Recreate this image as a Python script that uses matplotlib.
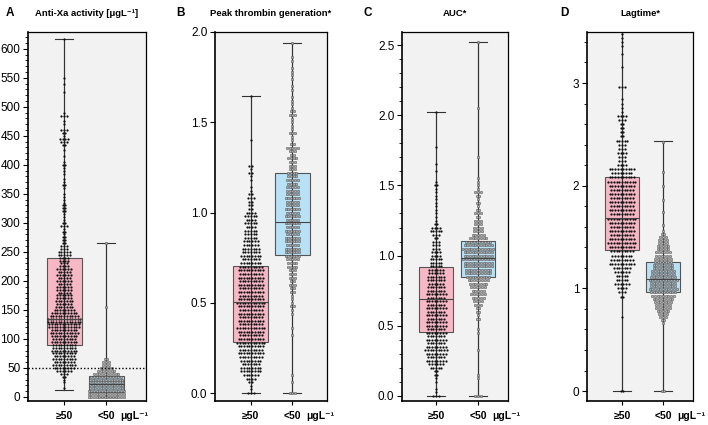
import matplotlib
matplotlib.use('Agg')
import matplotlib.pyplot as plt
import numpy as np
from matplotlib.ticker import MultipleLocator, FormatStrFormatter

plt.rcParams['font.family'] = ['Liberation Sans', 'DejaVu Sans']

# ---- data ----
groups = ['≥50', '<50']
unit = 'μgL⁻¹'
letters = ['A', 'B', 'C', 'D']
titles = ['Anti-Xa activity [μgL⁻¹]', 'Peak thrombin generation*', 'AUC*', 'Lagtime*']

# box summaries per group: (min, q1, median, q3, max)
anti_xa_box = [(12, 90, 135, 240, 617), (0, 8, 22, 36, 266)]
peak_box = [(0, 0.285, 0.505, 0.705, 1.647), (0, 0.767, 0.948, 1.217, 1.937)]
auc_box = [(0, 0.454, 0.688, 0.916, 2.02), (0, 0.845, 0.985, 1.107, 2.52)]
lag_box = [(0, 1.373, 1.688, 2.087, 3.62), (0, 0.967, 1.088, 1.259, 2.434)]

# dot rows: (value, number of dots in that row)
anti_xa_hi = [(15, 1), (25, 1), (30, 1), (35, 2), (40, 3), (45, 6), (50, 8), (55, 9), (60, 8),
              (65, 9), (70, 8), (75, 9), (80, 10), (85, 9), (90, 9), (95, 10), (100, 9), (105, 10),
              (110, 11), (115, 10), (120, 12), (125, 12), (130, 13), (135, 13), (140, 11), (145, 10),
              (150, 8), (155, 7), (160, 6), (165, 7), (170, 6), (175, 6), (180, 5), (185, 6), (190, 6),
              (195, 5), (200, 6), (205, 5), (210, 6), (215, 5), (220, 6), (225, 4), (230, 3), (235, 4),
              (240, 4), (245, 5), (250, 5), (255, 3), (260, 3), (265, 2), (270, 2), (275, 2), (280, 1),
              (285, 2), (290, 1), (295, 3), (300, 2), (305, 1), (310, 1), (315, 1), (320, 2), (325, 2),
              (330, 2), (335, 1), (340, 1), (345, 1), (350, 1), (360, 1), (365, 2), (370, 1), (375, 1),
              (385, 1), (390, 1), (395, 1), (400, 2), (405, 1), (415, 1), (425, 1), (435, 2), (440, 3),
              (445, 4), (450, 1), (455, 2), (460, 3), (470, 1), (475, 1), (485, 3), (490, 1), (525, 1),
              (540, 1), (550, 1), (617, 1)]
anti_xa_lo = [(0, 14), (5, 14), (10, 14), (15, 13), (20, 13), (25, 13), (30, 13), (35, 12), (40, 10),
              (45, 7), (50, 5), (55, 3), (60, 3), (65, 2), (155, 1), (266, 1)]

peak_hi = [(0.00, 3), (0.02, 1), (0.04, 1), (0.06, 2), (0.08, 4), (0.10, 6), (0.12, 8), (0.14, 8),
           (0.16, 7), (0.18, 8), (0.20, 9), (0.22, 10), (0.24, 9), (0.26, 10), (0.28, 11), (0.30, 10),
           (0.32, 9), (0.34, 10), (0.36, 11), (0.38, 9), (0.40, 10), (0.42, 9), (0.44, 10), (0.46, 9),
           (0.48, 10), (0.50, 11), (0.52, 10), (0.54, 9), (0.56, 10), (0.58, 9), (0.60, 10), (0.62, 9),
           (0.64, 10), (0.66, 9), (0.68, 10), (0.70, 9), (0.72, 8), (0.74, 7), (0.76, 8), (0.78, 7),
           (0.80, 7), (0.82, 6), (0.84, 6), (0.86, 5), (0.88, 5), (0.90, 5), (0.92, 4), (0.94, 5),
           (0.96, 4), (0.98, 5), (1.00, 4), (1.02, 2), (1.04, 2), (1.06, 2), (1.08, 3), (1.10, 2),
           (1.12, 1), (1.14, 1), (1.18, 1), (1.20, 1), (1.22, 2), (1.24, 1), (1.26, 2), (1.40, 1),
           (1.647, 1)]
peak_lo = [(0.00, 3), (0.06, 1), (0.10, 1), (0.32, 1), (0.36, 1), (0.44, 1), (0.46, 1), (0.48, 2),
           (0.50, 1), (0.52, 1), (0.54, 1), (0.56, 2), (0.58, 2), (0.60, 3), (0.62, 2), (0.64, 3),
           (0.66, 3), (0.68, 3), (0.70, 4), (0.72, 4), (0.74, 5), (0.76, 6), (0.78, 6), (0.80, 6),
           (0.82, 5), (0.84, 6), (0.86, 6), (0.88, 5), (0.90, 6), (0.92, 5), (0.94, 6), (0.96, 5),
           (0.98, 6), (1.00, 5), (1.02, 6), (1.04, 5), (1.06, 5), (1.08, 6), (1.10, 5), (1.12, 5),
           (1.14, 5), (1.16, 4), (1.18, 5), (1.20, 4), (1.22, 4), (1.24, 3), (1.26, 3), (1.28, 3),
           (1.30, 4), (1.32, 2), (1.34, 3), (1.36, 5), (1.38, 2), (1.40, 1), (1.42, 1), (1.44, 3),
           (1.46, 1), (1.48, 1), (1.50, 1), (1.52, 1), (1.54, 3), (1.56, 2), (1.58, 1), (1.60, 1),
           (1.62, 1), (1.64, 1), (1.68, 1), (1.70, 1), (1.74, 1), (1.76, 1), (1.78, 1), (1.80, 1),
           (1.84, 1), (1.86, 1), (1.937, 1)]

auc_hi = [(0.000, 3), (0.025, 1), (0.050, 1), (0.100, 1), (0.125, 1), (0.150, 2), (0.175, 2),
          (0.200, 5), (0.225, 6), (0.250, 8), (0.275, 7), (0.300, 8), (0.325, 9), (0.350, 8),
          (0.375, 7), (0.400, 8), (0.425, 7), (0.450, 8), (0.475, 7), (0.500, 8), (0.525, 8),
          (0.550, 7), (0.575, 8), (0.600, 7), (0.625, 8), (0.650, 7), (0.675, 8), (0.700, 7),
          (0.725, 8), (0.750, 7), (0.775, 7), (0.800, 6), (0.825, 7), (0.850, 7), (0.875, 6),
          (0.900, 6), (0.925, 5), (0.950, 5), (0.975, 5), (1.000, 4), (1.025, 4), (1.050, 3),
          (1.075, 3), (1.100, 3), (1.125, 2), (1.150, 3), (1.175, 5), (1.200, 4), (1.225, 2),
          (1.250, 1), (1.275, 1), (1.300, 1), (1.325, 1), (1.350, 1), (1.375, 1), (1.400, 1),
          (1.425, 1), (1.450, 1), (1.475, 1), (1.500, 2), (1.525, 1), (1.600, 1), (1.650, 1),
          (1.775, 1), (2.020, 1)]
auc_lo = [(0.000, 3), (0.125, 1), (0.150, 1), (0.325, 1), (0.450, 1), (0.475, 1), (0.550, 2),
          (0.575, 1), (0.600, 2), (0.625, 2), (0.650, 3), (0.675, 4), (0.700, 5), (0.725, 6),
          (0.750, 5), (0.775, 6), (0.800, 7), (0.825, 8), (0.850, 9), (0.875, 10), (0.900, 10),
          (0.925, 11), (0.950, 11), (0.975, 12), (1.000, 11), (1.025, 11), (1.050, 12), (1.075, 11),
          (1.100, 10), (1.125, 7), (1.150, 5), (1.175, 4), (1.200, 4), (1.225, 3), (1.250, 3),
          (1.275, 2), (1.300, 3), (1.325, 2), (1.350, 1), (1.375, 2), (1.400, 1), (1.425, 2),
          (1.450, 3), (1.475, 1), (1.500, 1), (1.525, 1), (1.550, 1), (1.700, 1), (2.050, 1),
          (2.520, 1)]

lag_hi = [(0.00, 2), (0.72, 1), (0.92, 2), (0.96, 3), (1.00, 4), (1.04, 6), (1.08, 5), (1.12, 5),
          (1.16, 6), (1.20, 7), (1.24, 10), (1.28, 9), (1.32, 8), (1.36, 9), (1.40, 10), (1.44, 11),
          (1.48, 10), (1.52, 9), (1.56, 10), (1.60, 9), (1.64, 10), (1.68, 11), (1.72, 9), (1.76, 10),
          (1.80, 9), (1.84, 10), (1.88, 9), (1.92, 10), (1.96, 9), (2.00, 10), (2.04, 11), (2.08, 10),
          (2.12, 8), (2.16, 10), (2.20, 4), (2.24, 3), (2.28, 3), (2.32, 4), (2.36, 3), (2.40, 3),
          (2.44, 5), (2.48, 2), (2.52, 2), (2.56, 2), (2.60, 2), (2.64, 3), (2.68, 4), (2.72, 1),
          (2.76, 1), (2.80, 1), (2.84, 1), (2.96, 3), (3.16, 1), (3.28, 1), (3.36, 1), (3.40, 1),
          (3.44, 1), (3.48, 1)]
lag_lo = [(0.00, 2), (0.66, 1), (0.69, 2), (0.72, 3), (0.75, 4), (0.78, 5), (0.81, 6), (0.84, 6),
          (0.87, 7), (0.90, 8), (0.93, 9), (0.96, 10), (0.99, 11), (1.02, 10), (1.05, 10), (1.08, 11),
          (1.11, 10), (1.14, 9), (1.17, 9), (1.20, 8), (1.23, 8), (1.26, 7), (1.29, 7), (1.32, 6),
          (1.35, 6), (1.38, 5), (1.41, 5), (1.44, 4), (1.47, 4), (1.50, 3), (1.53, 2), (1.56, 1),
          (1.62, 1), (1.74, 1), (1.86, 1), (2.00, 1), (2.13, 1), (2.43, 1)]

# ---- layout (pixel boxes of each axes in the 708x425 image) ----
W, H = 708, 425
panels = [
    dict(box=anti_xa_box, rows=(anti_xa_hi, anti_xa_lo), px=(28, 146, 32, 401),
         xlim=(-0.86, 1.95), ylim=(-7, 629), major=50, minor=10, fmt='%d', width=0.83, cutoff=50),
    dict(box=peak_box, rows=(peak_hi, peak_lo), px=(215, 327, 32, 401),
         xlim=(-0.86, 1.83), ylim=(-0.044, 2.0), major=0.5, minor=None, fmt='%.1f', width=0.84),
    dict(box=auc_box, rows=(auc_hi, auc_lo), px=(402, 508, 32, 401),
         xlim=(-0.81, 1.71), ylim=(-0.036, 2.593), major=0.5, minor=0.1, fmt='%.1f', width=0.81),
    dict(box=lag_box, rows=(lag_hi, lag_lo), px=(587, 693, 32, 401),
         xlim=(-0.85, 1.73), ylim=(-0.097, 3.497), major=1, minor=0.2, fmt='%d', width=0.83),
]
letter_x = [6, 176, 363, 560]

box_colours = ['#f6b8c5', '#b9e1f6']
bg = '#f2f2f2'

fig = plt.figure(figsize=(W / 100, H / 100), dpi=100)

for i, p in enumerate(panels):
    x0, x1, y0, y1 = p['px']
    ax = fig.add_axes([x0 / W, 1 - y1 / H, (x1 - x0) / W, (y1 - y0) / H])
    ax.set_facecolor(bg)
    ax.set_xlim(*p['xlim'])
    ax.set_ylim(*p['ylim'])
    ppu = (x1 - x0) / (p['xlim'][1] - p['xlim'][0])  # pixels per x unit

    stats = [dict(whislo=b[0], q1=b[1], med=b[2], q3=b[3], whishi=b[4]) for b in p['box']]
    bp = ax.bxp(stats, positions=[0, 1], widths=p['width'], capwidths=18 / ppu,
                patch_artist=True, showfliers=False,
                boxprops=dict(edgecolor='#555555', linewidth=0.8),
                medianprops=dict(color='#444444', linewidth=0.8),
                whiskerprops=dict(color='#333333', linewidth=0.8),
                capprops=dict(color='#333333', linewidth=0.8))
    for patch, c in zip(bp['boxes'], box_colours):
        patch.set_facecolor(c)
        patch.set_zorder(1.5)
    # whisker line running through the box, like the original
    for pos, b in zip([0, 1], p['box']):
        ax.plot([pos, pos], [b[0], b[4]], color='#333333', lw=0.8, zorder=1.6)

    dx = 2.7 / ppu
    for pos, rows in zip([0, 1], p['rows']):
        xs, ys = [], []
        for val, n in rows:
            xs.extend(pos + (np.arange(n) - (n - 1) / 2) * dx)
            ys.extend([val] * n)
        if pos == 0:
            ax.scatter(xs, ys, s=2.6, color='#111111', linewidths=0, zorder=3)
        else:
            ax.scatter(xs, ys, s=3.2, facecolor='#b0b0b0', edgecolor='#3a3a3a',
                       linewidths=0.3, zorder=3)
    for m in bp['medians']:
        m.set_zorder(4)

    if p.get('cutoff') is not None:
        ax.axhline(p['cutoff'], color='black', lw=1.0, ls=(0, (1, 1.5)), zorder=4)

    ax.yaxis.set_major_locator(MultipleLocator(p['major']))
    ax.yaxis.set_major_formatter(FormatStrFormatter(p['fmt']))
    if p['minor']:
        ax.yaxis.set_minor_locator(MultipleLocator(p['minor']))
    ax.tick_params(axis='y', which='major', length=3.5, width=0.8, labelsize=8.5, pad=2)
    ax.tick_params(axis='y', which='minor', length=2, width=0.6)
    ax.set_xticks([0, 1])
    ax.set_xticklabels(groups, fontweight='bold', fontsize=7.5)
    ax.tick_params(axis='x', length=3, width=0.8, pad=4)
    for s in ax.spines.values():
        s.set_linewidth(0.9)
    ax.spines['left'].set_linewidth(1.2)
    ax.spines['bottom'].set_linewidth(1.2)

    ax.annotate(unit, xy=(1, 0), xycoords=('data', 'axes fraction'), xytext=(10, -7),
                textcoords='offset points', ha='left', va='top', fontweight='bold', fontsize=7.5)

    fig.text((x0 + x1) / 2 / W, 1 - 13 / H, titles[i], ha='center', va='center',
             fontweight='bold', fontsize=6.8)
    fig.text(letter_x[i] / W, 1 - 13 / H, letters[i], ha='left', va='center',
             fontweight='bold', fontsize=8.5)

fig.savefig('out.png', dpi=100, facecolor='white')
